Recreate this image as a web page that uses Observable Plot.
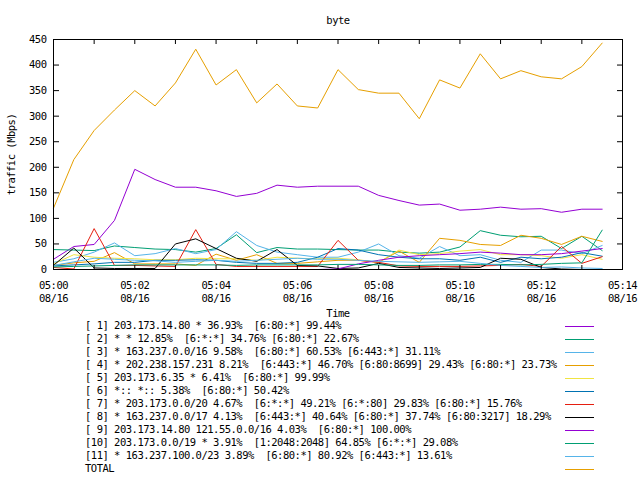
<!DOCTYPE html>
<html><head><meta charset="utf-8">
<script src="https://cdn.jsdelivr.net/npm/d3@7"></script>
<script src="https://cdn.jsdelivr.net/npm/@observablehq/plot@0.6"></script>
<style>
body{margin:0;background:#fff;}
#wrap{position:relative;width:640px;height:480px;overflow:hidden;font-family:"DejaVu Sans Mono",monospace;background:#fff;}
#wrap svg{position:absolute;left:0;top:0;}
#legend{position:absolute;left:0;top:319px;width:640px;font-size:10.5px;letter-spacing:-0.5px;line-height:13px;color:#000;}
.row{position:relative;height:13px;white-space:pre;}
.row .t{position:absolute;left:85px;top:2px;line-height:9px;}
.row .l{position:absolute;left:565px;width:29px;top:7px;height:1px;}
</style></head>
<body><div id="wrap"></div>
<script>
// sample times (every 30 s)
const times = ["05:00:00","05:00:30","05:01:00","05:01:30","05:02:00","05:02:30","05:03:00","05:03:30",
  "05:04:00","05:04:30","05:05:00","05:05:30","05:06:00","05:06:30","05:07:00","05:07:30",
  "05:08:00","05:08:30","05:09:00","05:09:30","05:10:00","05:10:30","05:11:00","05:11:30",
  "05:12:00","05:12:30","05:13:00","05:13:30"];

const s1  = [20,45,49,96,196,176,161,161,154,143,149,165,161,163,163,163,145,135,126,128,116,118,122,118,119,112,118,118];
const s2  = [39,38,37,46,43,40,39,34,41,68,33,43,40,40,39,38,38,34,32,34,44,76,67,64,65,41,65,37];
const s3  = [14,21,34,52,27,31,41,31,39,74,47,34,29,24,24,34,50,27,22,45,27,29,18,14,38,38,31,47];
const s4  = [8,13,16,33,11,11,11,8,30,18,29,12,12,15,18,18,14,36,14,61,57,49,47,67,61,49,65,55];
const s5  = [11,29,24,22,21,19,19,22,21,21,18,24,22,21,22,19,14,38,29,31,36,39,29,29,27,22,29,20];
const s6  = [7,9,11,14,14,18,18,19,18,14,12,12,14,24,41,38,29,24,21,21,18,24,14,24,21,24,33,26];
const s7  = [4,1,80,8,8,7,6,78,10,6,6,6,6,6,57,18,14,7,6,6,6,7,8,10,6,45,12,25];
const s8  = [8,42,3,2,2,2,50,60,41,22,16,39,8,7,2,3,12,4,3,2,3,4,22,20,4,1,0,0];
const s9  = [0,0,0,0,0,0,0,0,0,0,0,0,0,0,1,11,18,24,27,29,31,34,32,29,29,31,36,41];
const s10 = [5,6,7,8,9,9,9,9,9,8,9,9,9,9,10,10,9,8,8,9,9,10,10,9,10,12,13,77];
const s11 = [8,15,22,20,18,17,14,16,18,16,18,20,22,20,20,18,16,15,14,15,16,12,8,6,4,5,3,2];
const total = [120,215,272,312,350,320,365,431,361,391,326,363,320,316,391,352,345,345,295,371,355,422,373,389,377,373,397,443];

const legendLabels = [
  "[ 1] 203.173.14.80 * 36.93%  [6:80:*] 99.44%",
  "[ 2] * * 12.85%  [6:*:*] 34.76% [6:80:*] 22.67%",
  "[ 3] * 163.237.0.0/16 9.58%  [6:80:*] 60.53% [6:443:*] 31.11%",
  "[ 4] * 202.238.157.231 8.21%  [6:443:*] 46.70% [6:80:8699] 29.43% [6:80:*] 23.73%",
  "[ 5] 203.173.6.35 * 6.41%  [6:80:*] 99.99%",
  "[ 6] *:: *:: 5.38%  [6:80:*] 50.42%",
  "[ 7] * 203.173.0.0/20 4.67%  [6:*:*] 49.21% [6:*:80] 29.83% [6:80:*] 15.76%",
  "[ 8] * 163.237.0.0/17 4.13%  [6:443:*] 40.64% [6:80:*] 37.74% [6:80:3217] 18.29%",
  "[ 9] 203.173.14.80 121.55.0.0/16 4.03%  [6:80:*] 100.00%",
  "[10] 203.173.0.0/19 * 3.91%  [1:2048:2048] 64.85% [6:*:*] 29.08%",
  "[11] * 163.237.100.0/23 3.89%  [6:80:*] 80.92% [6:443:*] 13.61%",
  "TOTAL"
];
const colors = ["#9400d3","#009e73","#56b4e9","#e69f00","#f0e442","#0072b2","#e51e10","#000000",
  "#9400d3","#009e73","#56b4e9","#e69f00"];

const yTicks = [0,50,100,150,200,250,300,350,400,450];
const minuteTicks = ["05:00","05:01","05:02","05:03","05:04","05:05","05:06","05:07","05:08","05:09","05:10","05:11","05:12","05:13","05:14"];
const labelTicks = ["05:00","05:02","05:04","05:06","05:08","05:10","05:12","05:14"];
const day = "2024-08-16";
const title = "byte", xLabel = "Time", yLabel = "traffic (Mbps)";

const parse = t => new Date(`${day}T${t.length === 5 ? t + ":00" : t}Z`);
const series = [s1,s2,s3,s4,s5,s6,s7,s8,s9,s10,s11,total];
const fmt = d3.utcFormat("%H:%M\n%m/%d");

const plot = Plot.plot({
  width: 640, height: 320,
  marginLeft: 53, marginRight: 18, marginTop: 39, marginBottom: 51,
  style: {fontFamily: "DejaVu Sans Mono", fontSize: "10.5px", letterSpacing: "-0.5px", color: "#000", background: "#fff", overflow: "visible"},
  x: {type: "utc", domain: [parse("05:00"), parse("05:14")]},
  y: {domain: [0, 450]},
  marks: [
    ...series.map((vals, k) => Plot.line(vals, {x: (d, i) => parse(times[i]), y: d => d, stroke: colors[k], strokeWidth: 1})),
    Plot.frame({stroke: "#000"}),
    Plot.axisY(yTicks, {anchor: "left", tickSize: -6, tickFormat: () => "", label: null}),
    Plot.axisY(yTicks, {anchor: "right", tickSize: -6, tickFormat: () => "", label: null}),
    Plot.axisY(yTicks, {anchor: "left", tickSize: 0, tickPadding: 7, tickFormat: d => String(d), label: null}),
    Plot.axisX(minuteTicks.map(parse), {anchor: "bottom", tickSize: -4, tickFormat: () => "", label: null}),
    Plot.axisX(minuteTicks.map(parse), {anchor: "top", tickSize: -4, tickFormat: () => "", label: null}),
    Plot.axisX(labelTicks.map(parse), {anchor: "bottom", tickSize: 0, tickPadding: 10, tickFormat: fmt, lineHeight: 1.238, label: null}),
    Plot.text([title], {frameAnchor: "top", dy: -19, text: d => d, textAnchor: "middle", lineAnchor: "middle"}),
    Plot.text([xLabel], {frameAnchor: "bottom", dy: 44.5, text: d => d, textAnchor: "middle", lineAnchor: "middle"}),
    Plot.text([yLabel], {frameAnchor: "left", rotate: -90, dx: -42, text: d => d, textAnchor: "middle", lineAnchor: "middle"})
  ]
});

const wrap = document.getElementById("wrap");
wrap.appendChild(plot);
const legend = document.createElement("div");
legend.id = "legend";
legendLabels.forEach((lab, k) => {
  const row = document.createElement("div");
  row.className = "row";
  const t = document.createElement("span");
  t.className = "t"; t.textContent = lab;
  const l = document.createElement("span");
  l.className = "l"; l.style.background = colors[k];
  row.appendChild(t); row.appendChild(l);
  legend.appendChild(row);
});
wrap.appendChild(legend);
</script>
</body></html>
